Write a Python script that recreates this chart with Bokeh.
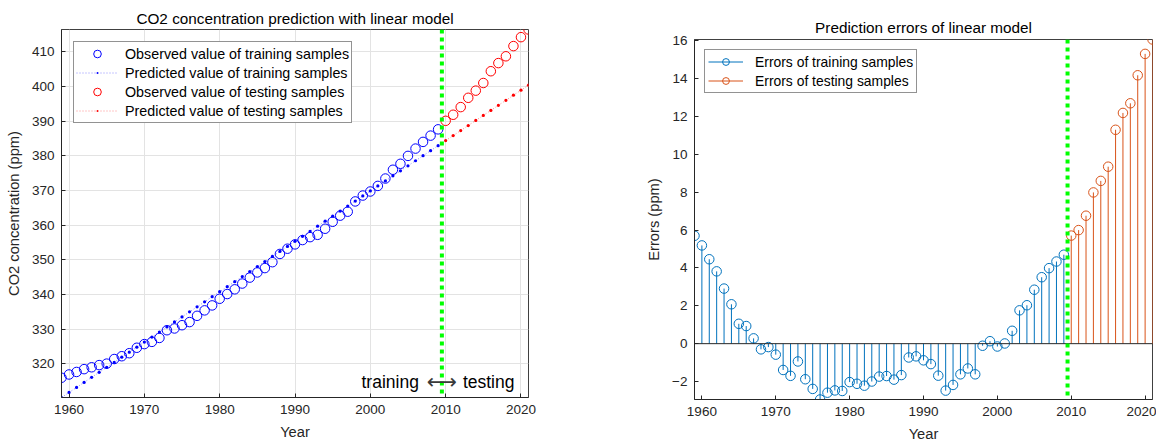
from bokeh.plotting import figure
from bokeh.models import Range1d, Span, Label, Legend, LegendItem, FixedTicker
from bokeh.layouts import row
from bokeh.embed import file_html
from bokeh.resources import INLINE

# ---------------- data ----------------
years_train = list(range(1959, 2010))
years_test = list(range(2010, 2022))

obs_train = [315.97, 316.91, 317.64, 318.45, 318.99, 319.62, 320.04, 321.37, 322.18, 323.05,
             324.62, 325.68, 326.32, 327.46, 329.68, 330.19, 331.13, 332.03, 333.84, 335.41,
             336.84, 338.76, 340.12, 341.48, 343.15, 344.87, 346.35, 347.61, 349.31, 351.69,
             353.20, 354.45, 355.70, 356.54, 357.21, 358.96, 360.97, 362.74, 363.88, 366.84,
             368.54, 369.71, 371.32, 373.45, 375.98, 377.70, 379.98, 382.09, 384.02, 385.83,
             387.64]
pred_train = [310.27, 311.72, 313.18, 314.63, 316.08, 317.54, 318.99, 320.44, 321.90, 323.35,
              324.80, 326.26, 327.71, 329.16, 330.62, 332.07, 333.52, 334.98, 336.43, 337.88,
              339.34, 340.79, 342.24, 343.70, 345.15, 346.61, 348.06, 349.51, 350.97, 352.42,
              353.87, 355.33, 356.78, 358.23, 359.69, 361.14, 362.59, 364.05, 365.50, 366.95,
              368.41, 369.86, 371.31, 372.77, 374.22, 375.67, 377.13, 378.58, 380.03, 381.49,
              382.94]
obs_test = [390.10, 391.85, 394.06, 396.74, 398.81, 401.01, 404.41, 406.76, 408.72, 411.66,
            414.24, 416.45]
pred_test = [384.39, 385.85, 387.30, 388.75, 390.21, 391.66, 393.11, 394.57, 396.02, 397.48,
             398.93, 400.38]
err_train = [5.70, 5.19, 4.46, 3.82, 2.91, 2.08, 1.05, 0.93, 0.28, -0.30,
             -0.18, -0.58, -1.39, -1.70, -0.94, -1.88, -2.39, -2.95, -2.59, -2.47,
             -2.50, -2.03, -2.12, -2.22, -2.00, -1.74, -1.71, -1.90, -1.66, -0.73,
             -0.67, -0.88, -1.08, -1.69, -2.48, -2.18, -1.62, -1.31, -1.62, -0.11,
             0.13, -0.15, 0.01, 0.68, 1.76, 2.03, 2.85, 3.51, 3.99, 4.34,
             4.70]
err_test = [5.71, 6.00, 6.76, 7.99, 8.60, 9.35, 11.30, 12.19, 12.70, 14.18, 15.31, 16.07]

x_ticks = [1960, 1970, 1980, 1990, 2000, 2010, 2020]
y_ticks_left = [320, 330, 340, 350, 360, 370, 380, 390, 400, 410]
y_ticks_right = [-2, 0, 2, 4, 6, 8, 10, 12, 14, 16]
split_year = 2009.5
annot_y = 314.6

FONT = "Liberation Sans"
AX = "#262626"


def style_axis(ax, ticks):
    ax.ticker = FixedTicker(ticks=ticks)
    ax.major_tick_in = 4
    ax.major_tick_out = 0
    ax.minor_tick_line_color = None
    ax.axis_line_color = AX
    ax.major_tick_line_color = AX
    ax.major_label_text_font = FONT
    ax.major_label_text_color = AX
    ax.major_label_text_font_size = "13.5px"
    ax.major_label_standoff = 7
    ax.axis_label_text_font = FONT
    ax.axis_label_text_font_size = "14.7px"
    ax.axis_label_text_font_style = "normal"
    ax.axis_label_text_color = AX
    ax.axis_label_standoff = 7


def style_title(t, standoff):
    t.text_font = FONT
    t.text_font_size = "15.3px"
    t.text_font_style = "normal"
    t.align = "center"
    t.text_color = "#000000"
    t.standoff = standoff


# ---------------- left: CO2 with linear model ----------------
p1 = figure(frame_width=467, frame_height=368, min_border_left=61, min_border_right=72,
            min_border_top=29, min_border_bottom=44,
            x_range=Range1d(1959, 2021),
            y_range=Range1d(min(pred_train), max(obs_test)),
            output_backend="svg", toolbar_location=None, frame_align=False,
            title="CO2 concentration prediction with linear model")
p1.outline_line_color = "#404040"
style_title(p1.title, 5)

style_axis(p1.xaxis[0], x_ticks)
style_axis(p1.yaxis[0], y_ticks_left)
p1.xaxis.axis_label = "Year"
p1.yaxis.axis_label = "CO2 concentration (ppm)"
p1.xgrid.ticker = FixedTicker(ticks=x_ticks)
p1.ygrid.ticker = FixedTicker(ticks=y_ticks_left)
p1.xgrid.grid_line_color = "#e3e3e3"
p1.ygrid.grid_line_color = "#e3e3e3"

r_ptl = p1.line(years_train, pred_train, line_color="#0000ff", line_width=1,
                line_dash="1 2", line_alpha=0.45)
r_ptd = p1.scatter(years_train, pred_train, marker="dot", size=13, line_color="#0000ff")
r_pel = p1.line(years_test, pred_test, line_color="#ff0000", line_width=1,
                line_dash="1 2", line_alpha=0.45)
r_ped = p1.scatter(years_test, pred_test, marker="dot", size=13, line_color="#ff0000")
r_ot = p1.scatter(years_train, obs_train, marker="circle", size=9.5, fill_color=None,
                  line_color="#0000ff", line_width=1)
r_oe = p1.scatter(years_test, obs_test, marker="circle", size=9.5, fill_color=None,
                  line_color="#ff0000", line_width=1)

p1.add_layout(Span(location=split_year, dimension="height", line_color="#00ff00",
                   line_width=4, line_dash="4 4"))
p1.add_layout(Label(x=split_year, y=annot_y, x_offset=-23, text="training",
                    text_align="right", text_baseline="middle",
                    text_font=FONT, text_font_size="17.5px", text_color="#000000"))
p1.add_layout(Label(x=split_year, y=annot_y, text="\u27f7",
                    text_align="center", text_baseline="middle",
                    text_font="DejaVu Sans", text_font_size="21px", text_color="#3a3a3a"))
p1.add_layout(Label(x=split_year, y=annot_y, x_offset=21, text="testing",
                    text_align="left", text_baseline="middle",
                    text_font=FONT, text_font_size="17.5px", text_color="#000000"))

leg1 = Legend(items=[
    LegendItem(label="Observed value of training samples", renderers=[r_ot]),
    LegendItem(label="Predicted value of training samples", renderers=[r_ptl, r_ptd]),
    LegendItem(label="Observed value of testing samples", renderers=[r_oe]),
    LegendItem(label="Predicted value of testing samples", renderers=[r_pel, r_ped]),
], location="top_left")
leg1.margin = 12
leg1.padding = 2
leg1.spacing = 0
leg1.glyph_height = 19
leg1.glyph_width = 42
leg1.label_standoff = 7
leg1.label_text_font = FONT
leg1.label_text_font_size = "14.3px"
leg1.label_text_color = "#000000"
leg1.border_line_color = AX
leg1.border_line_width = 1
leg1.background_fill_alpha = 1
p1.add_layout(leg1)

# ---------------- right: errors stem ----------------
p2 = figure(frame_width=458, frame_height=360, min_border_left=94, min_border_right=4,
            min_border_top=39, min_border_bottom=42,
            x_range=Range1d(1959, 2021),
            y_range=Range1d(min(err_train), max(err_test)),
            output_backend="svg", toolbar_location=None, frame_align=False,
            title="Prediction errors of linear model")
p2.outline_line_color = "#404040"
style_title(p2.title, 7)

style_axis(p2.xaxis[0], x_ticks)
style_axis(p2.yaxis[0], y_ticks_right)
p2.xaxis.axis_label = "Year"
p2.yaxis.axis_label = "Errors (ppm)"
p2.xgrid.grid_line_color = None
p2.ygrid.grid_line_color = None

C_TR = "#0072BD"
C_TE = "#D95319"
s_tr = p2.segment(x0=years_train, y0=0, x1=years_train, y1=err_train, line_color=C_TR, line_width=1)
s_te = p2.segment(x0=years_test, y0=0, x1=years_test, y1=err_test, line_color=C_TE, line_width=1)
p2.add_layout(Span(location=0, dimension="width", line_color=AX, line_width=1))
c_tr = p2.scatter(years_train, err_train, marker="circle", size=9.5, fill_color=None,
                  line_color=C_TR, line_width=1)
c_te = p2.scatter(years_test, err_test, marker="circle", size=9.5, fill_color=None,
                  line_color=C_TE, line_width=1)
p2.add_layout(Span(location=split_year, dimension="height", line_color="#00ff00",
                   line_width=4, line_dash="4 4"))

leg2 = Legend(items=[
    LegendItem(label="Errors of training samples", renderers=[s_tr, c_tr]),
    LegendItem(label="Errors of testing samples", renderers=[s_te, c_te]),
], location="top_left")
leg2.margin = 10
leg2.padding = 3
leg2.spacing = 2
leg2.glyph_height = 17
leg2.glyph_width = 35
leg2.label_standoff = 12
leg2.label_text_font = FONT
leg2.label_text_font_size = "13.9px"
leg2.label_text_color = "#000000"
leg2.border_line_color = AX
leg2.border_line_width = 1
p2.add_layout(leg2)

layout = row(p1, p2)
open("out.html", "w").write(file_html(layout, INLINE))
